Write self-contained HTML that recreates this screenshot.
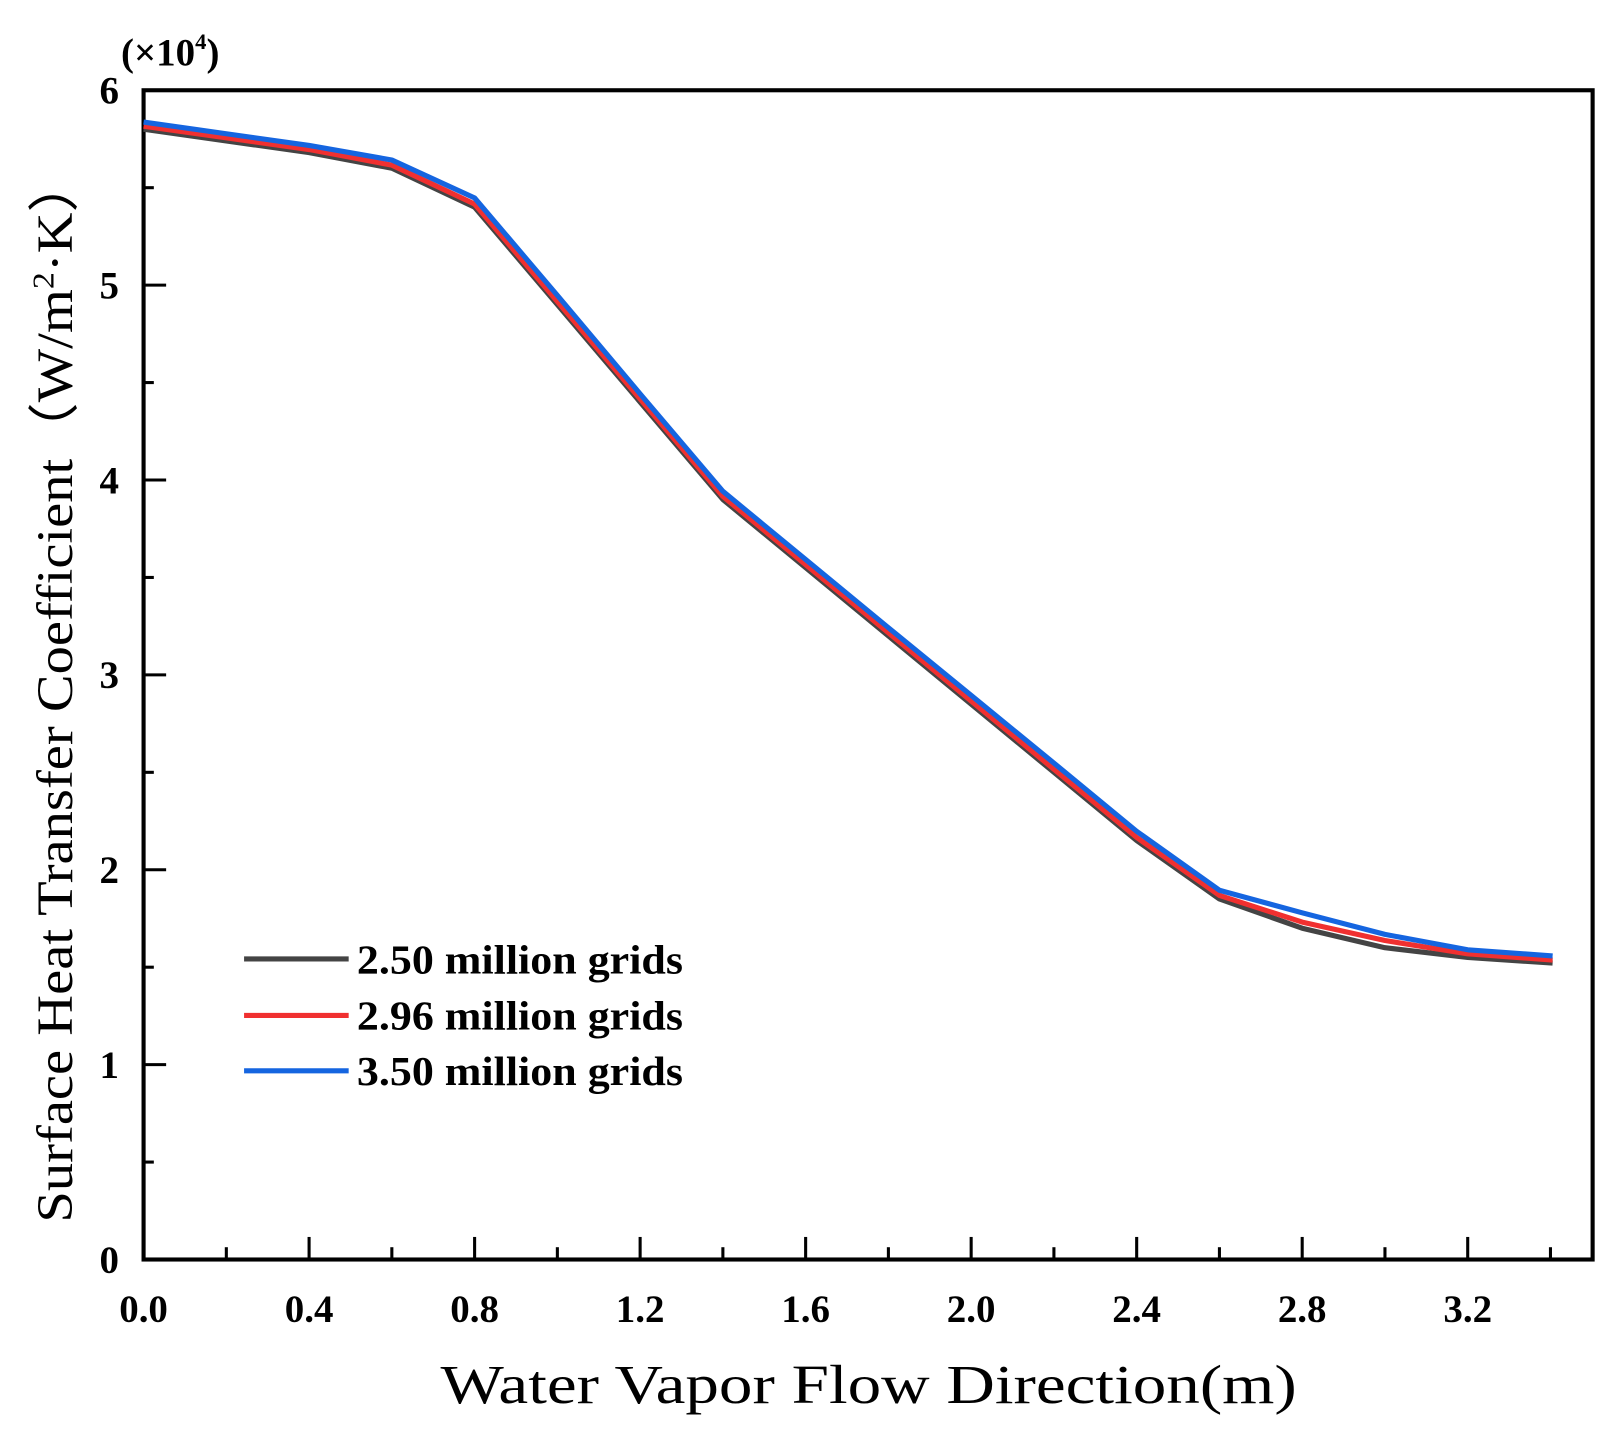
<!DOCTYPE html>
<html><head><meta charset="utf-8"><style>
html,body{margin:0;padding:0;background:#fff;}
svg{display:block;}
</style></head><body>
<svg width="1608" height="1439" viewBox="0 0 1568 1403" preserveAspectRatio="none" xmlns="http://www.w3.org/2000/svg" font-family="'Liberation Serif', serif">
<rect width="1568" height="1403" fill="#fff"/>
<rect x="140" y="88" width="1413" height="1140" fill="none" stroke="#000" stroke-width="4"/>
<g stroke="#000" stroke-width="3">
<line x1="301.4" y1="1228" x2="301.4" y2="1206"/><line x1="462.8" y1="1228" x2="462.8" y2="1206"/>
<line x1="624.2" y1="1228" x2="624.2" y2="1206"/><line x1="785.6" y1="1228" x2="785.6" y2="1206"/>
<line x1="947" y1="1228" x2="947" y2="1206"/><line x1="1108.4" y1="1228" x2="1108.4" y2="1206"/>
<line x1="1269.8" y1="1228" x2="1269.8" y2="1206"/><line x1="1431.2" y1="1228" x2="1431.2" y2="1206"/>
<line x1="220.7" y1="1228" x2="220.7" y2="1216"/><line x1="382.1" y1="1228" x2="382.1" y2="1216"/>
<line x1="543.5" y1="1228" x2="543.5" y2="1216"/><line x1="704.9" y1="1228" x2="704.9" y2="1216"/>
<line x1="866.3" y1="1228" x2="866.3" y2="1216"/><line x1="1027.7" y1="1228" x2="1027.7" y2="1216"/>
<line x1="1189.1" y1="1228" x2="1189.1" y2="1216"/><line x1="1350.5" y1="1228" x2="1350.5" y2="1216"/>
<line x1="1511.9" y1="1228" x2="1511.9" y2="1216"/>
<line x1="140" y1="1038" x2="162" y2="1038"/><line x1="140" y1="848" x2="162" y2="848"/>
<line x1="140" y1="658" x2="162" y2="658"/><line x1="140" y1="468" x2="162" y2="468"/>
<line x1="140" y1="278" x2="162" y2="278"/>
<line x1="140" y1="1133" x2="150" y2="1133"/><line x1="140" y1="943" x2="150" y2="943"/>
<line x1="140" y1="753" x2="150" y2="753"/><line x1="140" y1="563" x2="150" y2="563"/>
<line x1="140" y1="373" x2="150" y2="373"/><line x1="140" y1="183" x2="150" y2="183"/>
</g>
<g font-weight="bold" font-size="38" text-anchor="middle">
<text x="140" y="1289">0.0</text><text x="301.4" y="1289">0.4</text><text x="462.8" y="1289">0.8</text>
<text x="624.2" y="1289">1.2</text><text x="785.6" y="1289">1.6</text><text x="947" y="1289">2.0</text>
<text x="1108.4" y="1289">2.4</text><text x="1269.8" y="1289">2.8</text><text x="1431.2" y="1289">3.2</text>
</g>
<g font-weight="bold" font-size="38" text-anchor="end">
<text x="116" y="1241">0</text><text x="116" y="1051">1</text><text x="116" y="861">2</text>
<text x="116" y="671">3</text><text x="116" y="481">4</text><text x="116" y="291">5</text><text x="116" y="101">6</text>
</g>
<text x="118" y="64" font-size="38" font-weight="bold">(×10<tspan font-size="22" dy="-16">4</tspan><tspan dy="16">)</tspan></text>
<text transform="translate(70,672) rotate(-90)" text-anchor="middle" font-size="50" textLength="1040" lengthAdjust="spacingAndGlyphs">Surface Heat Transfer Coefficient（W/m<tspan font-size="30" dy="-18">2</tspan><tspan dy="18">·K）</tspan></text>
<text x="847" y="1368" text-anchor="middle" font-size="54" textLength="835" lengthAdjust="spacingAndGlyphs">Water Vapor Flow Direction(m)</text>
<g fill="none" stroke-width="5" stroke-linejoin="round">
<polyline stroke="#444" points="140,126 220.7,137.4 301.4,148.8 382.1,164 462.8,202 543.5,297 624.2,392 704.9,487 785.6,553.5 866.3,620 947,686.5 1027.7,753 1108.4,819.5 1189.1,876.5 1269.8,905 1350.5,924 1431.2,933.5 1514,939"/>
<polyline stroke="#f03030" points="140,123 220.7,134.4 301.4,145.8 382.1,161 462.8,199 543.5,294 624.2,389 704.9,484 785.6,550.5 866.3,617 947,683.5 1027.7,750 1108.4,816.5 1189.1,873 1269.8,899 1350.5,917 1431.2,930 1514,936"/>
<polyline stroke="#1565e0" points="140,119 220.7,130.4 301.4,141.8 382.1,156 462.8,193 543.5,288 624.2,384 704.9,479 785.6,545.5 866.3,612 947,678 1027.7,744 1108.4,810.5 1189.1,868 1269.8,890 1350.5,911 1431.2,926 1514,932"/>
</g>
<line x1="238" y1="935" x2="340" y2="935" stroke="#444" stroke-width="5"/>
<line x1="238" y1="990" x2="340" y2="990" stroke="#f03030" stroke-width="5"/>
<line x1="238" y1="1044" x2="340" y2="1044" stroke="#1565e0" stroke-width="5"/>
<g font-weight="bold" font-size="40">
<text x="348" y="949" textLength="318" lengthAdjust="spacingAndGlyphs">2.50 million grids</text>
<text x="348" y="1004" textLength="318" lengthAdjust="spacingAndGlyphs">2.96 million grids</text>
<text x="348" y="1058" textLength="318" lengthAdjust="spacingAndGlyphs">3.50 million grids</text>
</g>
</svg>
</body></html>
